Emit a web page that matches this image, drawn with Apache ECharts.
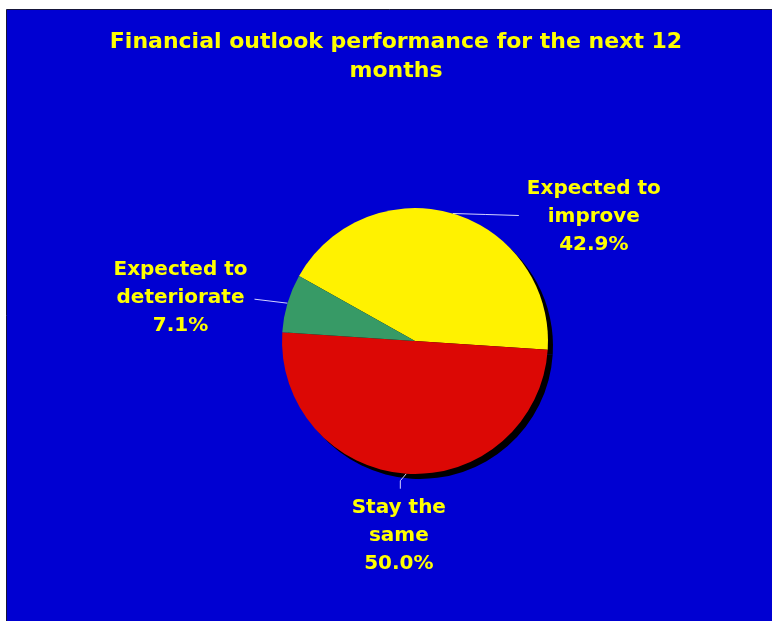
<!DOCTYPE html>
<html>
<head>
<meta charset="utf-8">
<title>Financial outlook performance for the next 12 months</title>
<script src="https://cdn.jsdelivr.net/npm/echarts@6/dist/echarts.min.js"></script>
<style>
  html, body { margin: 0; padding: 0; background: #ffffff; }
  #chart { width: 772px; height: 621px; }
</style>
</head>
<body>
<div id="chart"></div>
<script>
// Survey answers and their shares (percent)
const categories = ['Expected to\nimprove', 'Stay the\nsame', 'Expected to\ndeteriorate'];
const shares = [42.9, 50.0, 7.1];
const sliceColors = ['#FFF200', '#DC0805', '#379A66'];

const titleText = 'Financial outlook performance for the next 12\nmonths';

const PANEL = '#0000D2';
const TEXT = '#FFFF00';
const LEADER = '#D4D4FF';
const CX = 415, CY = 341, R = 133;

const chart = echarts.init(document.getElementById('chart'), null, { renderer: 'canvas' });

// Place each label next to its leader line; the leader starts where the
// library put it (on the rim, at the slice's mid angle).
function placeLabel(p) {
  const pts = p.labelLinePoints;
  if (!pts) return {};
  const a = pts[0];
  const w = p.labelRect.width, h = p.labelRect.height;
  if (p.dataIndex === 0) {
    const end = [a[0] + 66, a[1] + 2];
    return {
      x: end[0] + 8 + w / 2, y: end[1] + 1,
      align: 'center', verticalAlign: 'middle',
      labelLinePoints: [a, [(a[0] + end[0]) / 2, (a[1] + end[1]) / 2], end]
    };
  }
  if (p.dataIndex === 1) {
    const b = [a[0] - 6, a[1] + 7];
    const end = [b[0], b[1] + 8];
    return {
      x: end[0] - 1.5, y: end[1] + 5 + h / 2,
      align: 'center', verticalAlign: 'middle',
      labelLinePoints: [a, b, end]
    };
  }
  const end = [a[0] - 33, a[1] - 4];
  return {
    x: end[0] - 7 - w / 2, y: end[1] - 1,
    align: 'center', verticalAlign: 'middle',
    labelLinePoints: [a, [(a[0] + end[0]) / 2, (a[1] + end[1]) / 2], end]
  };
}

const option = {
  backgroundColor: '#ffffff',
  animation: false,
  graphic: [{
    type: 'rect',
    z: -10,
    shape: { x: 6.5, y: 9.5, width: 800, height: 700 },
    style: { fill: PANEL, stroke: '#15153a', lineWidth: 1 }
  }],
  title: {
    text: titleText,
    left: 396,
    top: 28,
    padding: 0,
    textAlign: 'center',
    textStyle: {
      color: TEXT,
      fontFamily: 'DejaVu Sans',
      fontWeight: 'bold',
      fontSize: 22,
      lineHeight: 29
    }
  },
  series: [
    {
      // drop shadow under the pie
      type: 'pie',
      silent: true,
      z: 1,
      center: [CX + 5, CY + 5],
      radius: R,
      startAngle: 150.7,
      label: { show: false },
      labelLine: { show: false },
      itemStyle: { color: '#000000', borderWidth: 0 },
      data: shares.map(v => ({ value: v }))
    },
    {
      type: 'pie',
      z: 2,
      center: [CX, CY],
      radius: R,
      startAngle: 150.7,
      clockwise: true,
      avoidLabelOverlap: false,
      itemStyle: { borderWidth: 0 },
      label: {
        show: true,
        position: 'outside',
        color: TEXT,
        fontFamily: 'DejaVu Sans',
        fontWeight: 'bold',
        fontSize: 20,
        lineHeight: 28,
        align: 'center',
        formatter: p => p.name + '\n' + p.value.toFixed(1) + '%'
      },
      labelLine: {
        show: true,
        length: 10,
        length2: 20,
        smooth: false,
        lineStyle: { color: LEADER, width: 1 }
      },
      labelLayout: placeLabel,
      emphasis: { disabled: true },
      data: categories.map((c, i) => ({
        name: c,
        value: shares[i],
        itemStyle: { color: sliceColors[i] }
      }))
    }
  ]
};

chart.setOption(option);
</script>
</body>
</html>
